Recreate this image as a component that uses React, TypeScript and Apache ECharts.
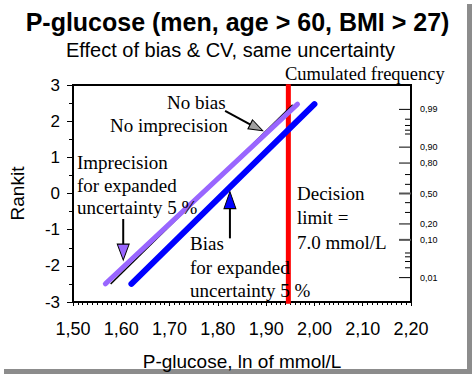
import React, { useEffect, useRef } from "react";
import * as echarts from "echarts";

// ---- data ----
const titleText = "P-glucose (men, age > 60, BMI > 27)";
const subtitleText = "Effect of bias & CV, same uncertainty";
const xName = "P-glucose, ln of mmol/L";
const yName = "Rankit";
const rightAxisName = "Cumulated frequency";

// lines (x = ln of mmol/L, y = rankit)
const imprecisionX = [1.567, 1.965];
const imprecisionY = [-2.5, 2.47];
const biasX = [1.621, 2.0];
const biasY = [-2.5, 2.47];
const trueX = [1.578, 1.955];
const trueY = [-2.5, 2.45];
const decisionLimit = 1.946; // ln(7.0)
const decisionY = [-3.05, 3.02];

// probability scale on the right (rankit positions)
const probTickRankits = [
  2.326, 2.054, 1.881, 1.751, 1.645, 1.282, 0.842, 0.524, 0.253, 0,
  -0.253, -0.524, -0.842, -1.282, -1.645, -1.751, -1.881, -2.054, -2.326,
];
const probTickLabels = [
  "0,99", "", "", "", "", "0,90", "0,80", "", "", "0,50",
  "", "", "0,20", "0,10", "", "", "", "", "0,01",
];

// annotation arrows: shaft [x0,y0,x1,y1], head position
const arrowNoBiasShaft = [1.815, 2.282, 1.878, 1.83];
const arrowNoBiasHead = [1.88, 1.824];
const arrowImpShaft = [1.604, -0.705, 1.604, -1.6];
const arrowImpHead = [1.604, -1.62];
const arrowBiasShaft = [1.825, -1.24, 1.825, -0.2];
const arrowBiasHead = [1.825, -0.183];

const SANS = "Liberation Sans, Arial, sans-serif";
const SERIF = "Liberation Serif, Times New Roman, serif";

const zip = (xs: number[], ys: number[]) => xs.map((x, i) => [x, ys[i]]);

export default function App() {
  const ref = useRef<HTMLDivElement>(null);

  useEffect(() => {
    if (!ref.current) return;
    const chart = echarts.init(ref.current, undefined, { renderer: "svg" });

    const serifText = (text: string, x: number, y: number, size = 19) => ({
      type: "text",
      x,
      y,
      style: {
        text,
        fill: "#000",
        fontFamily: SERIF,
        fontSize: size,
        align: "left",
        verticalAlign: "middle",
      },
      z: 100,
    });

    const option: any = {
      animation: false,
      backgroundColor: "#fff",
      grid: {
        left: 73,
        right: 64,
        top: 85,
        bottom: 68,
        show: true,
        borderColor: "#000",
        borderWidth: 2,
        backgroundColor: "transparent",
      },
      xAxis: {
        type: "value",
        min: 1.5,
        max: 2.2,
        interval: 0.1,
        name: xName,
        nameLocation: "middle",
        nameGap: 50,
        nameTextStyle: { fontFamily: SANS, fontSize: 19, color: "#000" },
        axisLine: { show: true, onZero: false, lineStyle: { color: "#000", width: 2 } },
        axisTick: { show: true, length: 4, lineStyle: { color: "#000" } },
        minorTick: { show: true, splitNumber: 10, length: 3, lineStyle: { color: "#000" } },
        splitLine: { show: false },
        axisLabel: {
          fontFamily: SANS,
          fontSize: 18,
          color: "#000",
          margin: 18,
          formatter: (v: number) => v.toFixed(2).replace(".", ","),
        },
      },
      yAxis: {
        type: "value",
        min: -3,
        max: 3,
        interval: 1,
        name: yName,
        nameLocation: "middle",
        nameGap: 46,
        nameTextStyle: { fontFamily: SANS, fontSize: 19, color: "#000" },
        axisLine: { show: true, onZero: false, lineStyle: { color: "#000", width: 2 } },
        axisTick: { show: true, length: 6, lineStyle: { color: "#000" } },
        minorTick: { show: true, splitNumber: 2, length: 4, lineStyle: { color: "#000" } },
        splitLine: { show: false },
        axisLabel: { fontFamily: SANS, fontSize: 17, color: "#000", margin: 13 },
      },
      series: [
        {
          type: "line",
          data: zip([decisionLimit, decisionLimit], decisionY),
          showSymbol: false,
          clip: false,
          lineStyle: { color: "#ff0000", width: 5 },
          z: 2,
        },
        {
          type: "line",
          data: zip(trueX, trueY),
          showSymbol: false,
          lineStyle: { color: "#000", width: 1.5 },
          z: 3,
        },
        {
          type: "line",
          data: zip(imprecisionX, imprecisionY),
          showSymbol: false,
          lineStyle: { color: "#9966ff", width: 5, cap: "round" },
          z: 4,
        },
        {
          type: "line",
          data: zip(biasX, biasY),
          showSymbol: false,
          lineStyle: { color: "#0000ff", width: 6, cap: "round" },
          z: 4,
        },
        // arrow shafts
        ...[arrowNoBiasShaft, arrowImpShaft, arrowBiasShaft].map((s) => ({
          type: "line",
          data: [
            [s[0], s[1]],
            [s[2], s[3]],
          ],
          showSymbol: false,
          lineStyle: { color: "#000", width: 2 },
          z: 5,
        })),
        // arrow heads
        {
          type: "scatter",
          data: [arrowNoBiasHead],
          symbol: "triangle",
          symbolSize: [10, 14],
          symbolRotate: -117,
          itemStyle: { color: "#a0a0a0", borderColor: "#000", borderWidth: 1, opacity: 1 },
          z: 6,
        },
        {
          type: "scatter",
          data: [arrowImpHead],
          symbol: "triangle",
          symbolSize: [12, 16],
          symbolRotate: 180,
          itemStyle: { color: "#9966ff", borderColor: "#000", borderWidth: 1, opacity: 1 },
          z: 6,
        },
        {
          type: "scatter",
          data: [arrowBiasHead],
          symbol: "triangle",
          symbolSize: [12, 17],
          symbolRotate: 0,
          itemStyle: { color: "#0000ff", borderColor: "#000", borderWidth: 1, opacity: 1 },
          z: 6,
        },
        // probability scale on the right
        {
          type: "custom",
          clip: false,
          data: probTickRankits.map((r, i) => [2.2, r, i]),
          renderItem: (params: any, api: any) => {
            const r = api.value(1);
            const i = api.value(2);
            const label = probTickLabels[i];
            const p = api.coord([2.2, r]);
            const thick = label === "0,50" || label === "0,10";
            const len = label ? 12 : 6;
            const children: any[] = [
              {
                type: "line",
                shape: { x1: p[0] - len, y1: p[1], x2: p[0], y2: p[1] },
                style: { stroke: thick ? "#555" : "#000", lineWidth: thick ? 2 : 1 },
              },
            ];
            if (label) {
              children.push({
                type: "text",
                x: p[0] + 9,
                y: p[1],
                style: {
                  text: label,
                  fill: "#000",
                  fontFamily: SANS,
                  fontSize: 9,
                  align: "left",
                  verticalAlign: "middle",
                },
              });
            }
            return { type: "group", children };
          },
          z: 7,
        },
      ],
      graphic: [
        {
          type: "rect",
          shape: { x: 467, y: 4, width: 5, height: 370 },
          style: { fill: "#8c8c8c" },
        },
        {
          type: "rect",
          shape: { x: 4, y: 369, width: 468, height: 5 },
          style: { fill: "#8c8c8c" },
        },
        {
          type: "text",
          x: 237.5,
          y: 22,
          style: {
            text: titleText,
            fill: "#000",
            fontFamily: SANS,
            fontWeight: "bold",
            fontSize: 25,
            align: "center",
            verticalAlign: "middle",
          },
        },
        {
          type: "text",
          x: 230.5,
          y: 50,
          style: {
            text: subtitleText,
            fill: "#000",
            fontFamily: SANS,
            fontSize: 20,
            align: "center",
            verticalAlign: "middle",
          },
        },
        serifText(rightAxisName, 285, 74, 18.5),
        serifText("No bias", 167, 102),
        serifText("No imprecision", 110, 125),
        serifText("Imprecision", 77, 162),
        serifText("for expanded", 77, 185),
        serifText("uncertainty 5 %", 77, 207),
        serifText("Bias", 190, 243),
        serifText("for expanded", 190, 267),
        serifText("uncertainty 5 %", 190, 290),
        serifText("Decision", 297, 193),
        serifText("limit =", 297, 217),
        serifText("7.0 mmol/L", 297, 242),
      ],
    };

    chart.setOption(option);
    return () => chart.dispose();
  }, []);

  return (
    <div
      ref={ref}
      style={{ position: "absolute", left: 0, top: 0, width: 475, height: 376, background: "#fff" }}
    />
  );
}
